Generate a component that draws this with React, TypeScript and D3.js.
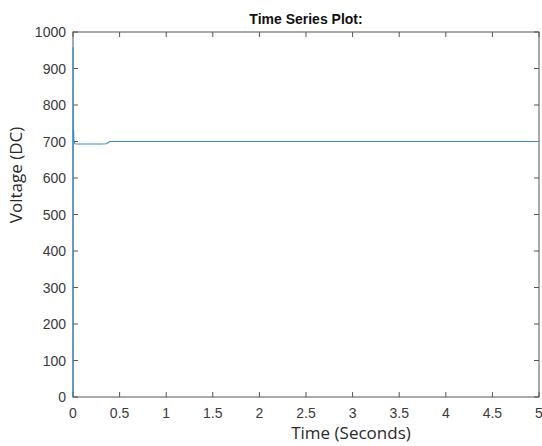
import React from "react";
import * as d3 from "d3";

const times = [0, 0.0005, 0.002, 0.004, 0.006, 0.01, 0.02, 0.05, 0.1, 0.2, 0.3, 0.36, 0.38, 0.4, 0.5, 1, 2, 3, 4, 5];
const volts = [0, 958, 745, 712, 735, 700, 694, 693, 693, 693, 693, 694, 698, 700, 700, 700, 700, 700, 700, 700];
const xTicks = [0, 0.5, 1, 1.5, 2, 2.5, 3, 3.5, 4, 4.5, 5];
const yTicks = [0, 100, 200, 300, 400, 500, 600, 700, 800, 900, 1000];

const W = 542, H = 446;
const M = { left: 73, right: 539, top: 32, bottom: 397 };

export default function App() {
  const x = d3.scaleLinear().domain([0, 5]).range([M.left, M.right]);
  const y = d3.scaleLinear().domain([0, 1000]).range([M.bottom, M.top]);
  const line = d3.line<number>().x((_, i) => x(times[i])).y((d) => y(d));
  const axisColor = "#555";
  const textColor = "#3a3a3a";
  const font = "'Liberation Sans', Arial, sans-serif";
  return (
    <svg width={W} height={H} style={{ position: "absolute", left: 0, top: 0, background: "#fff" }}>
      <rect x={0} y={0} width={W} height={H} fill="#fff" />
      <text x={(M.left + M.right) / 2} y={24} textAnchor="middle" fontFamily={font} fontWeight="bold" fontSize={14} fill="#111">
        Time Series Plot:
      </text>
      <rect x={M.left} y={M.top} width={M.right - M.left} height={M.bottom - M.top} fill="none" stroke={axisColor} strokeWidth={1} />
      {xTicks.map((t) => (
        <g key={"x" + t}>
          <line x1={x(t)} x2={x(t)} y1={M.bottom} y2={M.bottom - 5} stroke={axisColor} />
          <line x1={x(t)} x2={x(t)} y1={M.top} y2={M.top + 5} stroke={axisColor} />
          <text x={x(t)} y={418} textAnchor="middle" fontFamily={font} fontSize={14} fill={textColor}>
            {t}
          </text>
        </g>
      ))}
      {yTicks.map((v) => (
        <g key={"y" + v}>
          <line x1={M.left} x2={M.left + 5} y1={y(v)} y2={y(v)} stroke={axisColor} />
          <line x1={M.right} x2={M.right - 5} y1={y(v)} y2={y(v)} stroke={axisColor} />
          <text x={66} y={y(v) + 5} textAnchor="end" fontFamily={font} fontSize={14} fill={textColor}>
            {v}
          </text>
        </g>
      ))}
      <path d={line(volts) || ""} fill="none" stroke="#3a8cc4" strokeWidth={1.1} />
      <text x={351} y={439} textAnchor="middle" fontFamily="'Open Sans', sans-serif" fontSize={17} fill="#2a2a2a">
        Time (Seconds)
      </text>
      <text transform="translate(22,175) rotate(-90)" textAnchor="middle" fontFamily="'Open Sans', sans-serif" fontSize={17} fill="#2a2a2a">
        Voltage (DC)
      </text>
    </svg>
  );
}
